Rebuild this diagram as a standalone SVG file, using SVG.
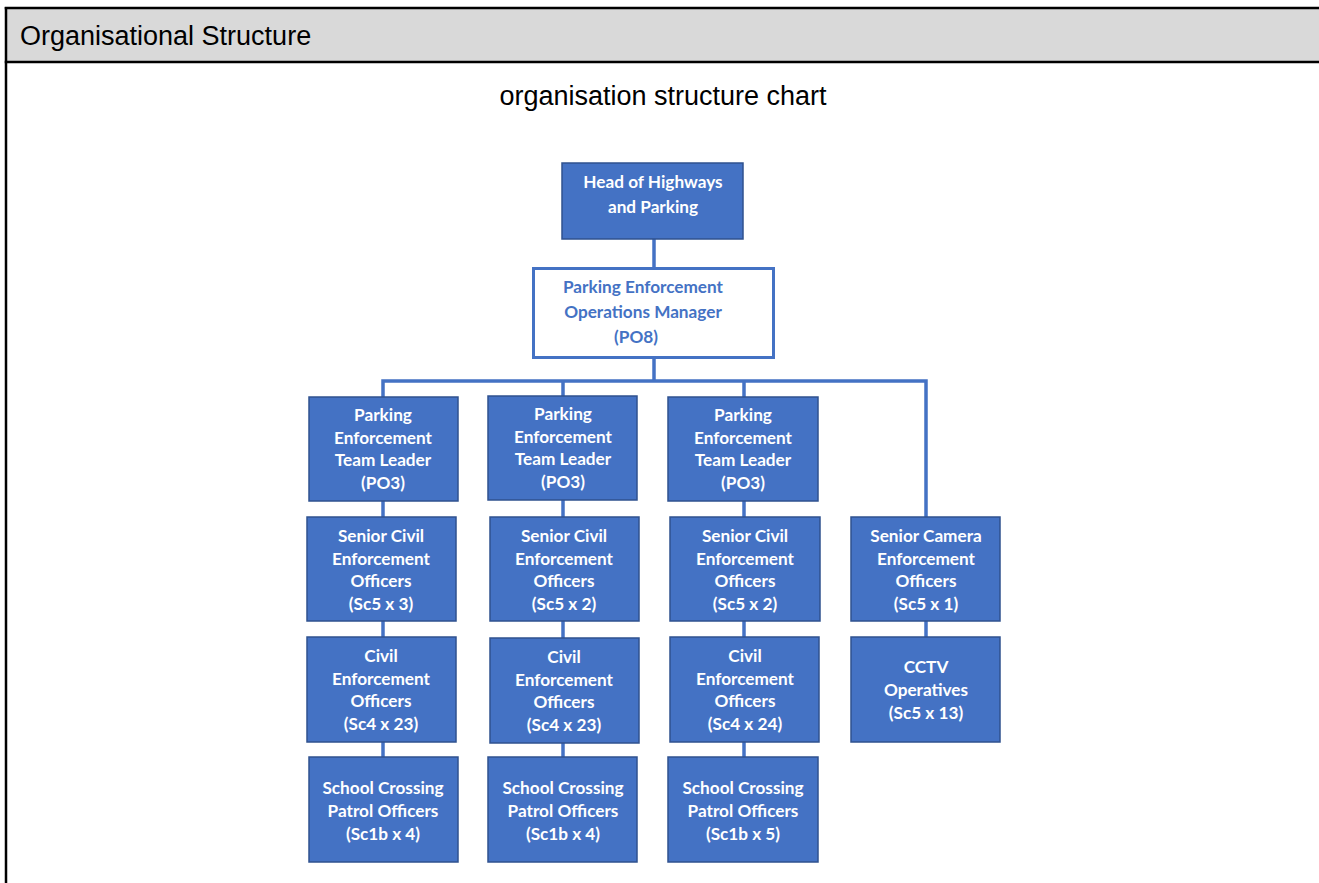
<svg xmlns="http://www.w3.org/2000/svg" width="1319" height="883" viewBox="0 0 1319 883">
<style>
.hdr{font-family:"Liberation Sans",Arial,sans-serif;font-size:27px;fill:#000}
.bx{fill:#4472C4;stroke:#2F528F;stroke-width:1.5}
.bt{font-family:Lato,"Open Sans",sans-serif;font-weight:bold;font-size:17.2px;fill:#fff;text-anchor:middle}
.bt2{font-family:Lato,"Open Sans",sans-serif;font-weight:bold;font-size:17.2px;fill:#4472C4;text-anchor:middle}
.cn{stroke:#4472C4;stroke-width:3.5;fill:none}
</style>
<rect x="0" y="0" width="1319" height="883" fill="#fff"/>
<rect x="6" y="8" width="1320" height="54" fill="#D9D9D9"/>
<line x1="4.75" y1="8" x2="1319" y2="8" stroke="#000" stroke-width="2.5"/>
<line x1="4.75" y1="62" x2="1319" y2="62" stroke="#000" stroke-width="2.5"/>
<line x1="6" y1="7" x2="6" y2="883" stroke="#000" stroke-width="2.5"/>
<text class="hdr" x="20" y="45">Organisational Structure</text>
<text class="hdr" x="663" y="105" text-anchor="middle">organisation structure chart</text>

<g id="connectors">
<line class="cn" x1="654" y1="239" x2="654" y2="267"/>
<line class="cn" x1="654" y1="358" x2="654" y2="381"/>
<polyline class="cn" points="383,397 383,381 926,381 926,517"/>
<line class="cn" x1="563" y1="381" x2="563" y2="396"/>
<line class="cn" x1="744" y1="381" x2="744" y2="397"/>
<line class="cn" x1="383" y1="501" x2="383" y2="757"/>
<line class="cn" x1="563" y1="500" x2="563" y2="757"/>
<line class="cn" x1="744" y1="501" x2="744" y2="757"/>
<line class="cn" x1="926" y1="621" x2="926" y2="637"/>
</g>

<g id="head">
<rect class="bx" x="562" y="163" width="181" height="76"/>
<text class="bt" x="653" y="188">Head of Highways</text>
<text class="bt" x="653" y="213">and Parking</text>
</g>

<g id="manager">
<rect x="533.5" y="268.5" width="240" height="89" fill="#fff" stroke="#4472C4" stroke-width="3"/>
<text class="bt2" x="643" y="293">Parking Enforcement</text>
<text class="bt2" x="643" y="318">Operations Manager</text>
<text class="bt2" x="636" y="343">(PO8)</text>
</g>

<g id="tl1">
<rect class="bx" x="309" y="397" width="149" height="104"/>
<text class="bt" x="383" y="421">Parking</text>
<text class="bt" x="383" y="443.5">Enforcement</text>
<text class="bt" x="383" y="466">Team Leader</text>
<text class="bt" x="383" y="488.5">(PO3)</text>
</g>
<g id="tl2">
<rect class="bx" x="488" y="396" width="149" height="104"/>
<text class="bt" x="563" y="420">Parking</text>
<text class="bt" x="563" y="442.5">Enforcement</text>
<text class="bt" x="563" y="465">Team Leader</text>
<text class="bt" x="563" y="487.5">(PO3)</text>
</g>
<g id="tl3">
<rect class="bx" x="668" y="397" width="150" height="104"/>
<text class="bt" x="743" y="421">Parking</text>
<text class="bt" x="743" y="443.5">Enforcement</text>
<text class="bt" x="743" y="466">Team Leader</text>
<text class="bt" x="743" y="488.5">(PO3)</text>
</g>

<g id="sceo1">
<rect class="bx" x="307" y="517" width="149" height="104"/>
<text class="bt" x="381" y="542">Senior Civil</text>
<text class="bt" x="381" y="564.5">Enforcement</text>
<text class="bt" x="381" y="587">Officers</text>
<text class="bt" x="381" y="609.5">(Sc5 x 3)</text>
</g>
<g id="sceo2">
<rect class="bx" x="490" y="517" width="149" height="104"/>
<text class="bt" x="564" y="542">Senior Civil</text>
<text class="bt" x="564" y="564.5">Enforcement</text>
<text class="bt" x="564" y="587">Officers</text>
<text class="bt" x="564" y="609.5">(Sc5 x 2)</text>
</g>
<g id="sceo3">
<rect class="bx" x="670" y="517" width="150" height="104"/>
<text class="bt" x="745" y="542">Senior Civil</text>
<text class="bt" x="745" y="564.5">Enforcement</text>
<text class="bt" x="745" y="587">Officers</text>
<text class="bt" x="745" y="609.5">(Sc5 x 2)</text>
</g>
<g id="scam">
<rect class="bx" x="851" y="517" width="149" height="104"/>
<text class="bt" x="926" y="542">Senior Camera</text>
<text class="bt" x="926" y="564.5">Enforcement</text>
<text class="bt" x="926" y="587">Officers</text>
<text class="bt" x="926" y="609.5">(Sc5 x 1)</text>
</g>

<g id="ceo1">
<rect class="bx" x="307" y="637" width="149" height="105"/>
<text class="bt" x="381" y="662">Civil</text>
<text class="bt" x="381" y="684.5">Enforcement</text>
<text class="bt" x="381" y="707">Officers</text>
<text class="bt" x="381" y="729.5">(Sc4 x 23)</text>
</g>
<g id="ceo2">
<rect class="bx" x="490" y="638" width="149" height="105"/>
<text class="bt" x="564" y="663">Civil</text>
<text class="bt" x="564" y="685.5">Enforcement</text>
<text class="bt" x="564" y="708">Officers</text>
<text class="bt" x="564" y="730.5">(Sc4 x 23)</text>
</g>
<g id="ceo3">
<rect class="bx" x="670" y="637" width="149" height="105"/>
<text class="bt" x="745" y="662">Civil</text>
<text class="bt" x="745" y="684.5">Enforcement</text>
<text class="bt" x="745" y="707">Officers</text>
<text class="bt" x="745" y="729.5">(Sc4 x 24)</text>
</g>
<g id="cctv">
<rect class="bx" x="851" y="637" width="149" height="105"/>
<text class="bt" x="926" y="673">CCTV</text>
<text class="bt" x="926" y="696">Operatives</text>
<text class="bt" x="926" y="719">(Sc5 x 13)</text>
</g>

<g id="scp1">
<rect class="bx" x="309" y="757" width="149" height="105"/>
<text class="bt" x="383" y="794">School Crossing</text>
<text class="bt" x="383" y="817">Patrol Officers</text>
<text class="bt" x="383" y="840">(Sc1b x 4)</text>
</g>
<g id="scp2">
<rect class="bx" x="488" y="757" width="149" height="105"/>
<text class="bt" x="563" y="794">School Crossing</text>
<text class="bt" x="563" y="817">Patrol Officers</text>
<text class="bt" x="563" y="840">(Sc1b x 4)</text>
</g>
<g id="scp3">
<rect class="bx" x="668" y="757" width="150" height="105"/>
<text class="bt" x="743" y="794">School Crossing</text>
<text class="bt" x="743" y="817">Patrol Officers</text>
<text class="bt" x="743" y="840">(Sc1b x 5)</text>
</g>
</svg>
